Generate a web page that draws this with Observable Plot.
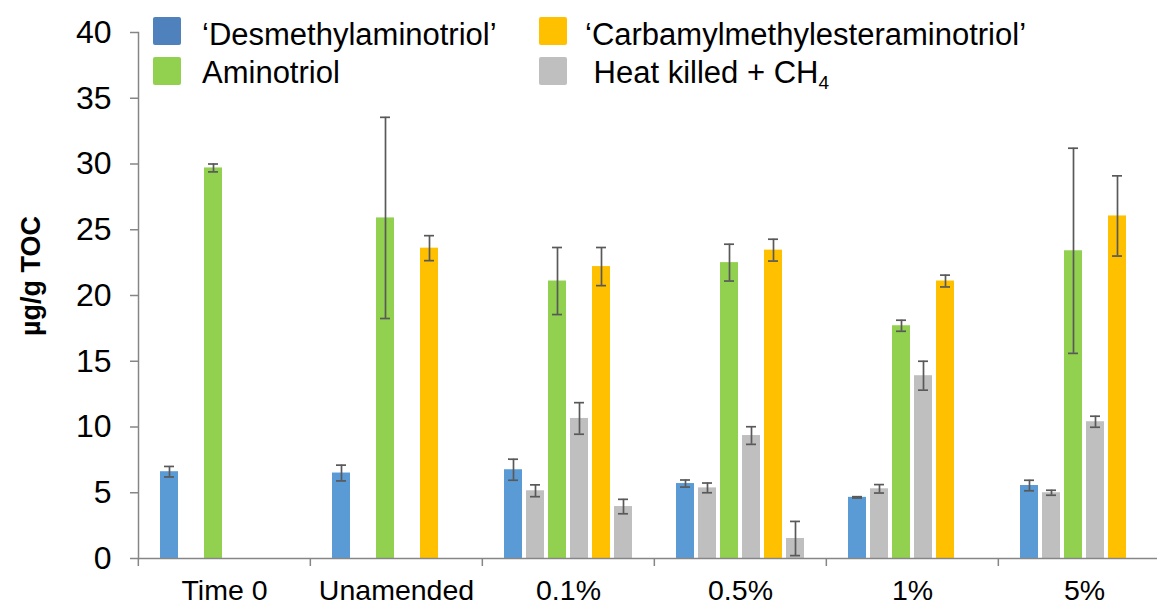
<!DOCTYPE html>
<html>
<head>
<meta charset="utf-8">
<script src="https://cdn.jsdelivr.net/npm/d3@7"></script>
<script src="https://cdn.jsdelivr.net/npm/@observablehq/plot@0.6"></script>
<style>
  html, body { margin: 0; padding: 0; background: #fff; overflow: hidden; }
  #wrap { position: relative; width: 1157px; height: 606px; font-family: "Liberation Sans", Arial, sans-serif; }
  #chart { position: absolute; left: 0; top: 0; }
  .sw { position: absolute; width: 28px; height: 28px; border-radius: 2px; }
  .lt { position: absolute; font-size: 31px; line-height: 31px; white-space: pre; color: #000; }
  .lt sub { font-size: 19px; vertical-align: -6px; line-height: 0; }
  #ytitle { position: absolute; left: 31px; top: 276px; transform-origin: 0 0; transform: rotate(-90deg) translate(-50%, -50%);
            font-weight: bold; font-size: 27px; white-space: nowrap; line-height: 1; }
</style>
</head>
<body>
<div id="wrap">
  <div id="chart"></div>
  <div id="ytitle">µg/g TOC</div>
  <div id="legend"></div>
</div>
<script>
// ---- data ----
const groups = ["Time 0", "Unamended", "0.1%", "0.5%", "1%", "5%"];
const slots = ["Desmethyl", "HK Desmethyl", "Aminotriol", "HK Aminotriol", "Carbamyl", "HK Carbamyl"];

const desmethyl       = [6.6, 6.5, 6.75, 5.7, 4.65, 5.55];
const desmethylErr    = [0.4, 0.6, 0.8, 0.27, 0.05, 0.4];
const hkDesmethyl     = [null, null, 5.15, 5.37, 5.3, 5.0];
const hkDesmethylErr  = [null, null, 0.45, 0.37, 0.32, 0.19];
const aminotriol      = [29.7, 25.9, 21.1, 22.5, 17.7, 23.4];
const aminotriolErr   = [0.3, 7.65, 2.55, 1.4, 0.42, 7.8];
const hkAminotriol    = [null, null, 10.65, 9.35, 13.9, 10.4];
const hkAminotriolErr = [null, null, 1.2, 0.67, 1.1, 0.42];
const carbamyl        = [0, 23.6, 22.2, 23.45, 21.1, 26.05];
const carbamylErr     = [null, 0.95, 1.45, 0.83, 0.45, 3.05];
const hkCarbamyl      = [null, null, 3.95, 1.52, 0, 0];
const hkCarbamylErr   = [null, null, 0.55, 1.3, null, null];

const yTicks = [0, 5, 10, 15, 20, 25, 30, 35, 40];

const legendItems = [
  {label: "‘Desmethylaminotriol’", color: "#4F81BD"},
  {label: "Aminotriol", color: "#92D050"},
  {label: "‘Carbamylmethylesteraminotriol’", color: "#FFC000"},
  {label: " Heat killed + CH<sub>4</sub>", color: "#BFBFBF"}
];

// ---- build table ----
const slotColors = ["#5B9BD5", "#BFBFBF", "#92D050", "#BFBFBF", "#FFC000", "#BFBFBF"];
const series = [desmethyl, hkDesmethyl, aminotriol, hkAminotriol, carbamyl, hkCarbamyl];
const errs = [desmethylErr, hkDesmethylErr, aminotriolErr, hkAminotriolErr, carbamylErr, hkCarbamylErr];
const rows = [];
groups.forEach((g, gi) => slots.forEach((s, si) => {
  const v = series[si][gi];
  if (v == null) return;
  rows.push({group: g, slot: s, value: v, err: errs[si][gi]});
}));
const errRows = rows.filter(d => d.err != null);
const ec = "#595959";
const axisColor = "#868686";

const chart = Plot.plot({
  width: 1157, height: 606,
  marginLeft: 137, marginRight: -14, marginTop: 32, marginBottom: 48,
  style: {fontFamily: "'Liberation Sans', Arial, sans-serif", background: "transparent", overflow: "visible", color: "#000"},
  fx: {domain: groups, padding: 0, label: null},
  x: {domain: slots, paddingInner: 0.167, paddingOuter: 0.862, axis: null},
  y: {domain: [0, 40], label: null},
  color: {domain: slots, range: slotColors},
  marks: [
    Plot.barY(rows, {fx: "group", x: "slot", y: "value", fill: "slot"}),
    Plot.ruleX(errRows, {fx: "group", x: "slot", y1: d => d.value - d.err, y2: d => d.value + d.err, stroke: ec, strokeWidth: 1.7}),
    Plot.tickY(errRows, {fx: "group", x: "slot", y: d => d.value + d.err, stroke: ec, strokeWidth: 1.7, insetLeft: 4, insetRight: 4}),
    Plot.tickY(errRows, {fx: "group", x: "slot", y: d => d.value - d.err, stroke: ec, strokeWidth: 1.7, insetLeft: 4, insetRight: 4}),
    Plot.ruleY([0], {stroke: axisColor, strokeWidth: 1.5}),
    Plot.frame({anchor: "left", facetAnchor: "left", stroke: axisColor, strokeWidth: 1.5}),
    Plot.axisY({ticks: yTicks, tickSize: 8, tickPadding: 19, fontSize: 32, stroke: axisColor, strokeWidth: 1.5, fill: "#000", label: null}),
    Plot.axisFx({anchor: "bottom", tickSize: 0, tickPadding: 21, fontSize: 28.5, fill: "#000", label: null}),
    Plot.axisFx({anchor: "bottom", tickSize: 8, tickFormat: () => "", dx: -86.17, stroke: axisColor, strokeWidth: 1.5, label: null})
  ]
});
document.getElementById("chart").appendChild(chart);

// ---- legend ----
const pos = [
  {sx: 153, sy: 17, tx: 202, ty: 19},
  {sx: 153, sy: 57, tx: 202, ty: 57},
  {sx: 539, sy: 17, tx: 585, ty: 19},
  {sx: 539, sy: 57, tx: 585, ty: 57}
];
const leg = document.getElementById("legend");
legendItems.forEach((it, i) => {
  const p = pos[i];
  const s = document.createElement("div");
  s.className = "sw"; s.style.left = p.sx + "px"; s.style.top = p.sy + "px"; s.style.background = it.color;
  leg.appendChild(s);
  const t = document.createElement("div");
  t.className = "lt"; t.style.left = p.tx + "px"; t.style.top = p.ty + "px"; t.innerHTML = it.label;
  leg.appendChild(t);
});
</script>
</body>
</html>
